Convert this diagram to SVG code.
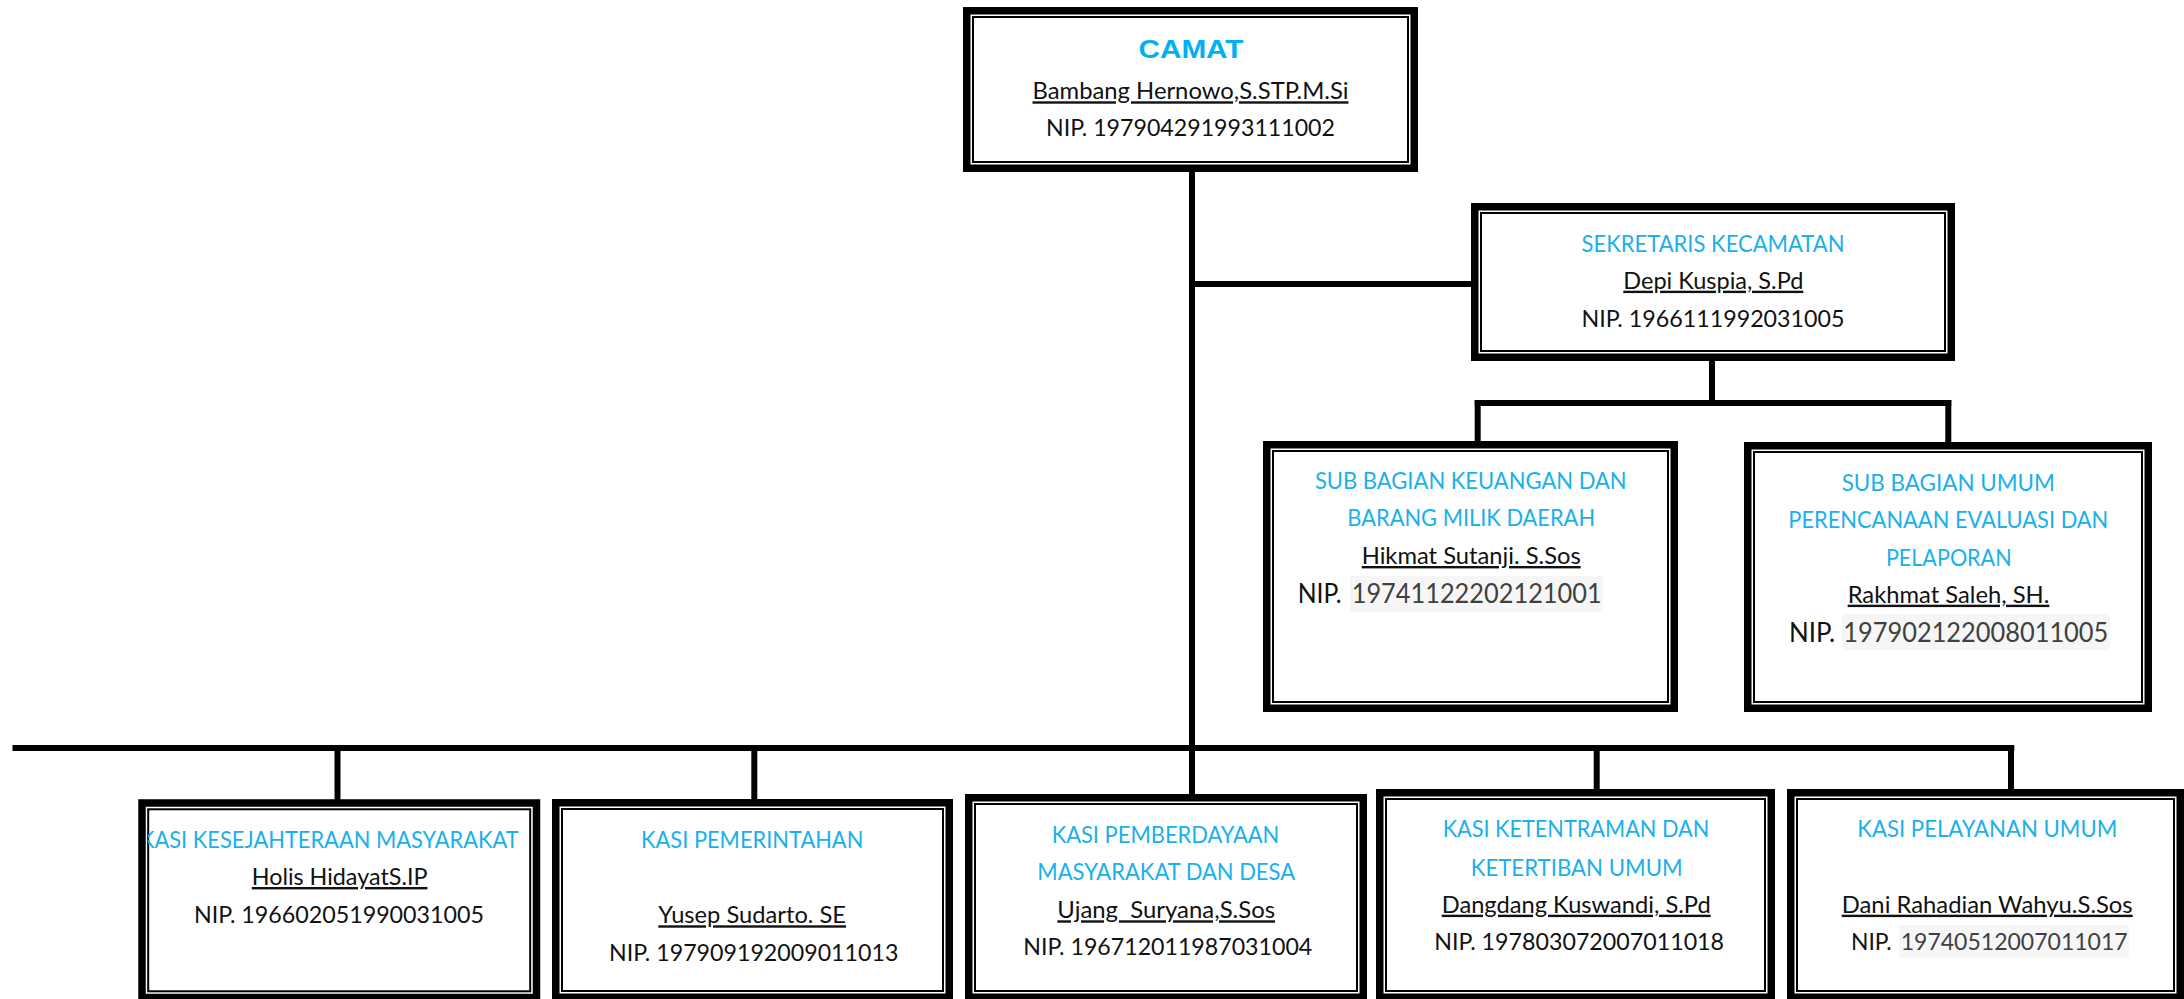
<svg xmlns="http://www.w3.org/2000/svg" width="2184" height="999" viewBox="0 0 2184 999">
<style>
.outer{fill:#fff;stroke:#000;stroke-width:7.5}
.inner{fill:none;stroke:#000;stroke-width:2}
.conn line{stroke:#000;stroke-width:6;stroke-linecap:butt}
text{font-family:Lato,"Open Sans","Noto Sans",sans-serif;font-size:24px;fill:#111;text-anchor:middle}
.t{fill:#1AB0EC}
.u{text-decoration:underline}
.s{text-anchor:start}
.g{fill:#404040}
.hl{fill:#F6F6F6}
.big{font-size:26px}
.camat{font-family:"Liberation Sans",Arial,sans-serif;font-weight:bold;font-size:25px;fill:#00B0F0}
</style>
<defs>
<clipPath id="clip1"><rect x="148" y="810" width="382" height="180"/></clipPath>
</defs>
<g id="connectors" class="conn">
<line x1="1192" y1="170" x2="1192" y2="796"/>
<line x1="1192" y1="284" x2="1473" y2="284"/>
<line x1="1712" y1="358" x2="1712" y2="403"/>
<line x1="1474.7" y1="403" x2="1951.3" y2="403"/>
<line x1="1477.7" y1="400" x2="1477.7" y2="443"/>
<line x1="1948.3" y1="400" x2="1948.3" y2="444"/>
<line x1="12.5" y1="748" x2="2014.3" y2="748"/>
<line x1="337.5" y1="745" x2="337.5" y2="801"/>
<line x1="754.3" y1="745" x2="754.3" y2="801"/>
<line x1="1596.7" y1="745" x2="1596.7" y2="791"/>
<line x1="2011" y1="745" x2="2011" y2="791"/>
</g>
<g id="camat">
<rect class="outer" x="966.75" y="10.75" width="447.5" height="157.5"/>
<rect class="inner" x="973" y="17" width="435" height="145"/>
<text class="camat" x="1191" y="58" textLength="105" lengthAdjust="spacingAndGlyphs">CAMAT</text>
<text class="u" x="1190.5" y="99.3" textLength="316" lengthAdjust="spacingAndGlyphs">Bambang Hernowo,S.STP.M.Si</text>
<text x="1190.5" y="136" textLength="289" lengthAdjust="spacingAndGlyphs">NIP. 197904291993111002</text>
</g>
<g id="sekretaris">
<rect class="outer" x="1474.75" y="206.75" width="476.5" height="150.5"/>
<rect class="inner" x="1481" y="213" width="464" height="138"/>
<text class="t" x="1713" y="251.7" textLength="263" lengthAdjust="spacingAndGlyphs">SEKRETARIS KECAMATAN</text>
<text class="u" x="1713.3" y="288.7" textLength="180" lengthAdjust="spacingAndGlyphs">Depi Kuspia, S.Pd</text>
<text x="1713" y="326.7" textLength="263" lengthAdjust="spacingAndGlyphs">NIP. 1966111992031005</text>
</g>
<g id="subbag-keuangan">
<rect class="outer" x="1266.75" y="444.75" width="407.5" height="263.5"/>
<rect class="inner" x="1273" y="451" width="395" height="251"/>
<text class="t" x="1470.8" y="489" textLength="311.7" lengthAdjust="spacingAndGlyphs">SUB BAGIAN KEUANGAN DAN</text>
<text class="t" x="1471.2" y="526" textLength="247.7" lengthAdjust="spacingAndGlyphs">BARANG MILIK DAERAH</text>
<text class="u" x="1471.2" y="564" textLength="219" lengthAdjust="spacingAndGlyphs">Hikmat Sutanji. S.Sos</text>
<rect class="hl" x="1350" y="576" width="252.7" height="35.7"/>
<text class="s big" x="1297.7" y="603.3" textLength="44" lengthAdjust="spacingAndGlyphs">NIP.</text>
<text class="s big g" x="1351.7" y="603.3" textLength="250" lengthAdjust="spacingAndGlyphs">19741122202121001</text>
</g>
<g id="subbag-umum">
<rect class="outer" x="1747.75" y="445.75" width="400.5" height="262.5"/>
<rect class="inner" x="1754" y="452" width="388" height="250"/>
<text class="t" x="1948.3" y="490.7" textLength="213.3" lengthAdjust="spacingAndGlyphs">SUB BAGIAN UMUM</text>
<text class="t" x="1948.3" y="527.7" textLength="320" lengthAdjust="spacingAndGlyphs">PERENCANAAN EVALUASI DAN</text>
<text class="t" x="1948.8" y="565.7" textLength="125.7" lengthAdjust="spacingAndGlyphs">PELAPORAN</text>
<text class="u" x="1948.5" y="602.7" textLength="201.7" lengthAdjust="spacingAndGlyphs">Rakhmat Saleh, SH.</text>
<rect class="hl" x="1842" y="614" width="268" height="36"/>
<text class="s big" x="1789" y="641.7" textLength="46" lengthAdjust="spacingAndGlyphs">NIP.</text>
<text class="s big g" x="1843.3" y="641.7" textLength="265" lengthAdjust="spacingAndGlyphs">197902122008011005</text>
</g>
<g id="kasi-kesejahteraan">
<rect class="outer" x="142" y="803" width="394.5" height="194.5"/>
<rect class="inner" x="148.2" y="809.3" width="382" height="182"/>
<text class="t" x="329.3" y="848.3" textLength="378.6" lengthAdjust="spacingAndGlyphs" clip-path="url(#clip1)">KASI KESEJAHTERAAN MASYARAKAT</text>
<text class="u" x="339.6" y="885" textLength="175.7" lengthAdjust="spacingAndGlyphs">Holis HidayatS.IP</text>
<text x="339" y="922.7" textLength="290" lengthAdjust="spacingAndGlyphs">NIP. 196602051990031005</text>
</g>
<g id="kasi-pemerintahan">
<rect class="outer" x="555.75" y="802.75" width="393.5" height="194.5"/>
<rect class="inner" x="562" y="809" width="381" height="182"/>
<text class="t" x="752.2" y="847.7" textLength="222.3" lengthAdjust="spacingAndGlyphs">KASI PEMERINTAHAN</text>
<text class="u" x="752.2" y="923.3" textLength="187.7" lengthAdjust="spacingAndGlyphs">Yusep Sudarto. SE</text>
<text x="753.7" y="961" textLength="289.3" lengthAdjust="spacingAndGlyphs">NIP. 197909192009011013</text>
</g>
<g id="kasi-pemberdayaan">
<rect class="outer" x="968.75" y="797.75" width="394.5" height="199.5"/>
<rect class="inner" x="975" y="804" width="382" height="187"/>
<text class="t" x="1165.5" y="842.7" textLength="227.7" lengthAdjust="spacingAndGlyphs">KASI PEMBERDAYAAN</text>
<text class="t" x="1166.2" y="880" textLength="257.7" lengthAdjust="spacingAndGlyphs">MASYARAKAT DAN DESA</text>
<text class="u" x="1166.2" y="918.3" textLength="217.7" lengthAdjust="spacingAndGlyphs" xml:space="preserve">Ujang  Suryana,S.Sos</text>
<text x="1167.8" y="955" textLength="289" lengthAdjust="spacingAndGlyphs">NIP. 196712011987031004</text>
</g>
<g id="kasi-ketentraman">
<rect class="outer" x="1379.75" y="792.75" width="391.5" height="204.5"/>
<rect class="inner" x="1386" y="799" width="379" height="192"/>
<text class="t" x="1576" y="836.7" textLength="266.7" lengthAdjust="spacingAndGlyphs">KASI KETENTRAMAN DAN</text>
<text class="t" x="1576.7" y="876" textLength="212" lengthAdjust="spacingAndGlyphs">KETERTIBAN UMUM</text>
<text class="u" x="1576.2" y="912.7" textLength="269" lengthAdjust="spacingAndGlyphs">Dangdang Kuswandi, S.Pd</text>
<text x="1579.2" y="950" textLength="289.7" lengthAdjust="spacingAndGlyphs">NIP. 197803072007011018</text>
</g>
<g id="kasi-pelayanan">
<rect class="outer" x="1790.75" y="792.75" width="389.5" height="204.5"/>
<rect class="inner" x="1797" y="799" width="377" height="192"/>
<text class="t" x="1987.3" y="836.7" textLength="260" lengthAdjust="spacingAndGlyphs">KASI PELAYANAN UMUM</text>
<text class="u" x="1987.2" y="912.7" textLength="291" lengthAdjust="spacingAndGlyphs">Dani Rahadian Wahyu.S.Sos</text>
<rect class="hl" x="1899.3" y="925" width="229.7" height="32.7"/>
<text class="s" x="1851" y="950" textLength="40.7" lengthAdjust="spacingAndGlyphs">NIP.</text>
<text class="s g" x="1900.7" y="950" textLength="227" lengthAdjust="spacingAndGlyphs">19740512007011017</text>
</g>
</svg>
